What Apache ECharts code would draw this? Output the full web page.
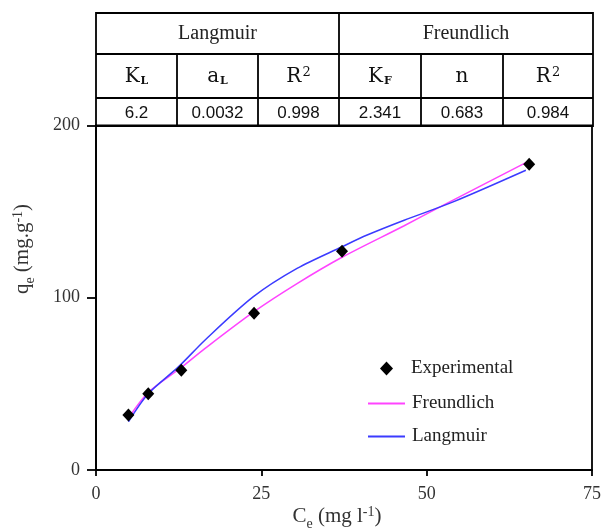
<!DOCTYPE html>
<html><head><meta charset="utf-8">
<script src="https://cdn.jsdelivr.net/npm/echarts@6/dist/echarts.min.js"></script>
<style>html,body{margin:0;padding:0;background:#fff}#c{width:605px;height:528px}</style>
</head><body><div id="c"></div>
<script>
// ---- data ----
var expCe = [4.9, 7.9, 12.9, 23.9, 37.2, 65.5];
var expQe = [32, 44.3, 57.9, 91, 127, 177.5];
var freCe = [5.05, 7.9, 12.9, 16.5, 23.9, 30.4, 37.2, 46.6, 52.1, 65.3];
var freQe = [31, 45, 59.5, 70.6, 91.9, 108.2, 123.5, 141.8, 152.9, 179];
var lanCe = [4.9, 7.9, 12.5, 16.5, 23.8, 30.4, 37.2, 41, 46.6, 54.1, 65];
var lanQe = [28, 44.3, 60, 75.5, 100.6, 117, 129.6, 136.4, 145, 155.8, 174];
var xTicks = [0, 25, 50, 75];
var yTicks = [0, 100, 200];
var tableHeaders = ['Langmuir', 'Freundlich'];
var tableSymbols = [['K', 'L', 'sub'], ['a', 'L', 'sub'], ['R', '2', 'sup'], ['K', 'F', 'sub'], ['n', '', ''], ['R', '2', 'sup']];
var tableValues = ['6.2', '0.0032', '0.998', '2.341', '0.683', '0.984'];

function zip(a, b) { return a.map(function (v, i) { return [v, b[i]]; }); }

// ---- table layout ----
var TL = 96, TR = 593, T0 = 13, T1 = 54, T2 = 98, T3 = 126;
var colX = [96, 177, 258, 339, 421, 503, 593];
var g = [];
var lw = 1.8;
g.push({ type: 'rect', shape: { x: TL, y: T0, width: TR - TL, height: T3 - T0 }, style: { fill: 'none', stroke: '#000', lineWidth: lw }, z: 10 });
[T1, T2].forEach(function (y) {
  g.push({ type: 'line', shape: { x1: TL, y1: y, x2: TR, y2: y }, style: { stroke: '#000', lineWidth: lw }, z: 10 });
});
g.push({ type: 'line', shape: { x1: 339, y1: T0, x2: 339, y2: T3 }, style: { stroke: '#000', lineWidth: lw }, z: 10 });
[177, 258, 421, 503].forEach(function (x) {
  g.push({ type: 'line', shape: { x1: x, y1: T1, x2: x, y2: T3 }, style: { stroke: '#000', lineWidth: lw }, z: 10 });
});
var serif = '"Liberation Serif", "DejaVu Serif", serif';
g.push({ type: 'text', x: (96 + 339) / 2, y: (T0 + T1) / 2, style: { text: tableHeaders[0], font: '20px ' + serif, fill: '#222', align: 'center', verticalAlign: 'middle' }, z: 11 });
g.push({ type: 'text', x: (339 + 593) / 2, y: (T0 + T1) / 2, style: { text: tableHeaders[1], font: '20px ' + serif, fill: '#222', align: 'center', verticalAlign: 'middle' }, z: 11 });
tableSymbols.forEach(function (s, i) {
  var cx = (colX[i] + colX[i + 1]) / 2;
  var txt = '{m|' + s[0] + '}' + (s[1] ? '{' + s[2] + '|' + s[1] + '}' : '');
  g.push({ type: 'text', x: cx, y: (T1 + T2) / 2 + 1, style: {
    text: txt, align: 'center', verticalAlign: 'middle',
    rich: {
      m: { font: '20px "DejaVu Serif", serif', fill: '#111', lineHeight: 24, verticalAlign: 'middle' },
      sub: { font: 'bold 11px "DejaVu Serif", serif', fill: '#111', lineHeight: 24, verticalAlign: 'bottom', padding: [0, 0, 2, 1] },
      sup: { font: '13px "DejaVu Serif", serif', fill: '#111', lineHeight: 24, verticalAlign: 'top', padding: [1, 0, 0, 1] }
    } }, z: 11 });
});
tableValues.forEach(function (v, i) {
  var cx = (colX[i] + colX[i + 1]) / 2;
  g.push({ type: 'text', x: cx, y: (T2 + T3) / 2 + 1, style: { text: v, font: '17px "Liberation Sans", Arial, sans-serif', fill: '#111', align: 'center', verticalAlign: 'middle' }, z: 11 });
});
// axis titles
var titleRich = {
  n: { font: '21px ' + serif, fill: '#333', lineHeight: 26, verticalAlign: 'middle' },
  s: { font: '14px ' + serif, fill: '#333', lineHeight: 26, verticalAlign: 'bottom', padding: [0, 0, -2, 0] },
  p: { font: '14px ' + serif, fill: '#333', lineHeight: 26, verticalAlign: 'top', padding: [2, 0, 0, 0] }
};
g.push({ type: 'text', x: 337, y: 516, style: {
  text: '{n|C}{s|e}{n| (mg l}{p|-1}{n|)}', align: 'center', verticalAlign: 'middle', rich: titleRich } });
g.push({ type: 'text', x: 22, y: 249, rotation: Math.PI / 2, style: {
  text: '{n|q}{s|e}{n| (mg.g}{p|-1}{n|)}', align: 'center', verticalAlign: 'middle', rich: titleRich } });

var chart = echarts.init(document.getElementById('c'), null, { renderer: 'canvas' });
chart.setOption({
  animation: false,
  backgroundColor: '#fff',
  grid: { left: 96, right: 13, top: 125.5, bottom: 58, show: true, borderColor: '#000', borderWidth: 1.8, containLabel: false },
  xAxis: {
    type: 'value', min: xTicks[0], max: xTicks[xTicks.length - 1], interval: 25,
    axisLine: { show: true, onZero: false, lineStyle: { color: '#000', width: 1.8 } },
    axisTick: { show: true, inside: false, length: 6, lineStyle: { color: '#000', width: 1.8 } },
    axisLabel: { color: '#333', fontFamily: 'Liberation Serif', fontSize: 18, margin: 15 },
    splitLine: { show: false }
  },
  yAxis: {
    type: 'value', min: yTicks[0], max: yTicks[yTicks.length - 1], interval: 100,
    axisLine: { show: true, onZero: false, lineStyle: { color: '#000', width: 1.8 } },
    axisTick: { show: true, inside: false, length: 9, lineStyle: { color: '#000', width: 1.8 } },
    axisLabel: { color: '#333', fontFamily: 'Liberation Serif', fontSize: 18, margin: 16 },
    splitLine: { show: false }
  },
  legend: [
    { data: [{ name: 'Experimental', icon: 'diamond' }], orient: 'vertical', left: 380, top: 359, padding: 0, itemWidth: 13, itemHeight: 14,
      textStyle: { fontFamily: 'Liberation Serif', fontSize: 19, color: '#222', padding: [0, 0, 0, 13] } },
    { data: [{ name: 'Freundlich', icon: 'rect' }, { name: 'Langmuir', icon: 'rect' }], orient: 'vertical', left: 368, top: 393, padding: 0, itemWidth: 37, itemHeight: 1.8, itemGap: 12,
      textStyle: { fontFamily: 'Liberation Serif', fontSize: 19, color: '#222', lineHeight: 21, padding: [0, 0, 0, 2] } }
  ],
  series: [
    { name: 'Freundlich', type: 'line', data: zip(freCe, freQe), smooth: 0.3, showSymbol: false, symbol: 'none',
      lineStyle: { color: '#ff44ff', width: 1.5 }, itemStyle: { color: '#ff44ff' }, z: 3 },
    { name: 'Langmuir', type: 'line', data: zip(lanCe, lanQe), smooth: 0.3, showSymbol: false, symbol: 'none',
      lineStyle: { color: '#3b3bff', width: 1.5 }, itemStyle: { color: '#3b3bff' }, z: 3 },
    { name: 'Experimental', type: 'scatter', data: zip(expCe, expQe), symbol: 'diamond', symbolSize: [12, 13],
      itemStyle: { color: '#000', opacity: 1 }, z: 5 }
  ],
  graphic: g
});
</script></body></html>
